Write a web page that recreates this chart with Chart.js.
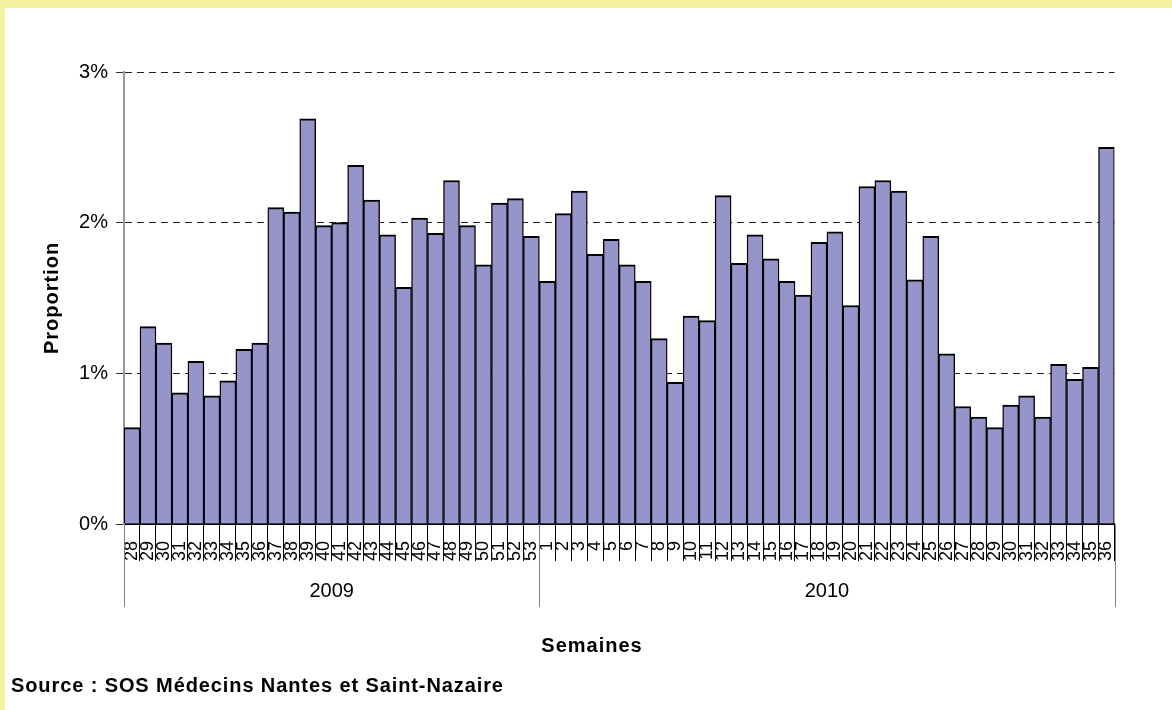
<!DOCTYPE html>
<html><head><meta charset="utf-8">
<script src="https://cdn.jsdelivr.net/npm/chart.js@4/dist/chart.umd.min.js"></script>
<style>
html,body{margin:0;padding:0;background:#fff;}
#wrap{position:relative;width:1172px;height:710px;background:#fff;overflow:hidden;}
#bt{position:absolute;left:0;top:0;width:1172px;height:8px;background:#F4F29E;}
#bl{position:absolute;left:0;top:0;width:5px;height:710px;background:#F4F29E;}
canvas{position:absolute;left:0;top:0;}
</style></head><body>
<div id="wrap"><div id="bt"></div><div id="bl"></div><canvas id="c" width="1172" height="710"></canvas></div>
<script>
const weeks2009 = ['28','29','30','31','32','33','34','35','36','37','38','39','40','41','42','43','44','45','46','47','48','49','50','51','52','53'];
const weeks2010 = ['1','2','3','4','5','6','7','8','9','10','11','12','13','14','15','16','17','18','19','20','21','22','23','24','25','26','27','28','29','30','31','32','33','34','35','36'];
const values2009 = [0.64,1.31,1.20,0.87,1.08,0.85,0.95,1.16,1.20,2.10,2.07,2.69,1.98,2.00,2.38,2.15,1.92,1.57,2.03,1.93,2.28,1.98,1.72,2.13,2.16,1.91];
const values2010 = [1.61,2.06,2.21,1.79,1.89,1.72,1.61,1.23,0.94,1.38,1.35,2.18,1.73,1.92,1.76,1.61,1.52,1.87,1.94,1.45,2.24,2.28,2.21,1.62,1.91,1.13,0.78,0.71,0.64,0.79,0.85,0.71,1.06,0.96,1.04,2.50];
const years = ['2009','2010'];
const yTickLabels = ['0%','1%','2%','3%'];
const xTitle = 'Semaines';
const yTitle = 'Proportion';
const sourceText = 'Source : SOS Médecins Nantes et Saint-Nazaire';

const labels = weeks2009.concat(weeks2010);
const values = values2009.concat(values2010);
const groupSizes = [weeks2009.length, weeks2010.length];
const FONT = "'Liberation Sans', Arial, sans-serif";

const extras = {
  id: 'extras',
  afterDraw(chart) {
    const ctx = chart.ctx;
    const xs = chart.scales.x;
    const area = chart.chartArea;
    const n = labels.length;
    const boundary = (i) => {
      if (i <= 0) return area.left;
      if (i >= n) return area.right;
      return (xs.getPixelForValue(i - 1) + xs.getPixelForValue(i)) / 2;
    };
    const bounds = [0];
    let acc = 0;
    groupSizes.forEach(s => { acc += s; bounds.push(acc); });
    ctx.save();
    ctx.strokeStyle = '#808080';
    ctx.lineWidth = 1;
    bounds.forEach(b => {
      const x = Math.round(boundary(b)) + 0.5;
      ctx.beginPath();
      ctx.moveTo(x, area.bottom);
      ctx.lineTo(x, 607);
      ctx.stroke();
    });
    ctx.fillStyle = '#000';
    ctx.font = '20px ' + FONT;
    ctx.textAlign = 'center';
    ctx.textBaseline = 'middle';
    years.forEach((y, k) => {
      const cx = (boundary(bounds[k]) + boundary(bounds[k + 1])) / 2;
      ctx.fillText(y, cx, 591);
    });
    ctx.font = 'bold 20px ' + FONT;
    ctx.letterSpacing = '1px';
    ctx.fillText(xTitle, 592, 646);
    ctx.save();
    ctx.translate(52, (area.top + area.bottom) / 2);
    ctx.rotate(-Math.PI / 2);
    ctx.fillText(yTitle, 0, 0);
    ctx.restore();
    ctx.letterSpacing = '0.9px';
    ctx.textAlign = 'left';
    ctx.fillText(sourceText, 11, 686);
    ctx.restore();
  }
};

new Chart(document.getElementById('c'), {
  type: 'bar',
  data: {
    labels: labels,
    datasets: [{
      data: values,
      backgroundColor: '#9595C9',
      borderColor: '#000',
      borderWidth: {top: 2, left: 1.4, right: 1.4, bottom: 0},
      barPercentage: 1,
      categoryPercentage: 1
    }]
  },
  options: {
    responsive: false,
    animation: false,
    layout: {padding: {left: 0, top: 72, right: 57.5, bottom: 0}},
    plugins: {legend: {display: false}, tooltip: {enabled: false}, title: {display: false}},
    scales: {
      x: {
        grid: {offset: true, drawOnChartArea: false, drawTicks: true, tickLength: 37, color: '#000', lineWidth: 1},
        border: {display: true, color: '#000', width: 2},
        ticks: {autoSkip: false, minRotation: 90, maxRotation: 90, padding: -20, color: '#000', font: {family: FONT, size: 18}},
        afterFit(s) { s.height = 186; }
      },
      y: {
        min: 0, max: 3,
        ticks: {stepSize: 1, padding: 8, color: '#000', font: {family: FONT, size: 20}, callback: (v) => yTickLabels[v]},
        grid: {color: '#222', lineWidth: 1, tickLength: 8, tickColor: '#333', drawTicks: true},
        border: {display: true, color: '#999', width: 2, dash: [7, 5]},
        afterFit(s) { s.width = 124; }
      }
    }
  },
  plugins: [extras]
});
</script>
</body></html>
